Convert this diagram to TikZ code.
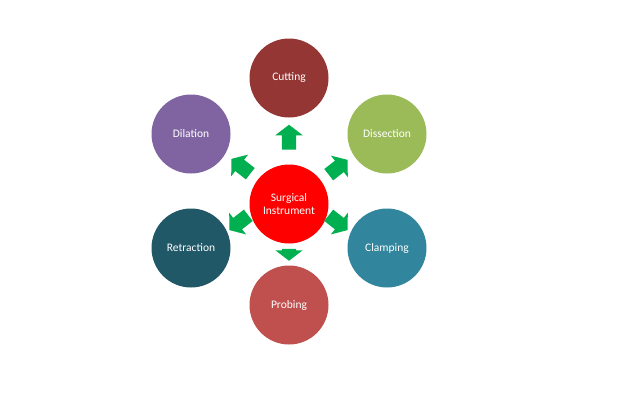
\documentclass[tikz,border=0pt]{standalone}
\usepackage{fontspec}
\setmainfont{Carlito}
\usepackage{xcolor}
\usepackage{tikz}
\usetikzlibrary{shapes.arrows}

\definecolor{arrowgreen}{HTML}{00B050}
\definecolor{cutred}{HTML}{943634}
\definecolor{disgreen}{HTML}{9BBB59}
\definecolor{clampblue}{HTML}{31859C}
\definecolor{proberose}{HTML}{C0504D}
\definecolor{retrteal}{HTML}{215868}
\definecolor{dilviolet}{HTML}{8064A2}

\begin{document}
\begin{tikzpicture}[x=1pt, y=1pt, font=\fontsize{11.5}{13.5}\selectfont,
  blob/.style={circle, minimum size=79pt, inner sep=0pt, text=white, align=center},
  push/.style={single arrow, fill=arrowgreen, inner xsep=0pt, inner ysep=7pt,
    single arrow head extend=6.5pt, single arrow tip angle=105, minimum height=24pt}]
\useasboundingbox[fill=white] (0,0) rectangle (640,-402);
% centre and the six uses around it
\node[blob, fill=red] (instr) at (289,-204) {Surgical\\Instrument};
\node[blob, fill=cutred] (cut) at (289,-78) {Cutting};
\node[blob, fill=disgreen] (dis) at (387,-134) {Dissection};
\node[blob, fill=clampblue] (clamp) at (387,-248) {Clamping};
\node[blob, fill=proberose] (probe) at (289,-305) {Probing};
\node[blob, fill=retrteal] (retr) at (191,-248) {Retraction};
\node[blob, fill=dilviolet] (dil) at (191,-134) {Dilation};
% block arrows
\node[push, rotate=90, minimum height=25pt] (tocut) at (289,-140) {};
\node[push, rotate=38] (todis) at (336,-169) {};
\node[push, rotate=-38] (toclamp) at (336,-221) {};
\node[push, rotate=-90, minimum height=12pt] (toprobe) at (289,-252) {};
\node[push, rotate=218] (toretr) at (241,-221) {};
\node[push, rotate=142] (todil) at (243,-168) {};
\end{tikzpicture}
\end{document}
